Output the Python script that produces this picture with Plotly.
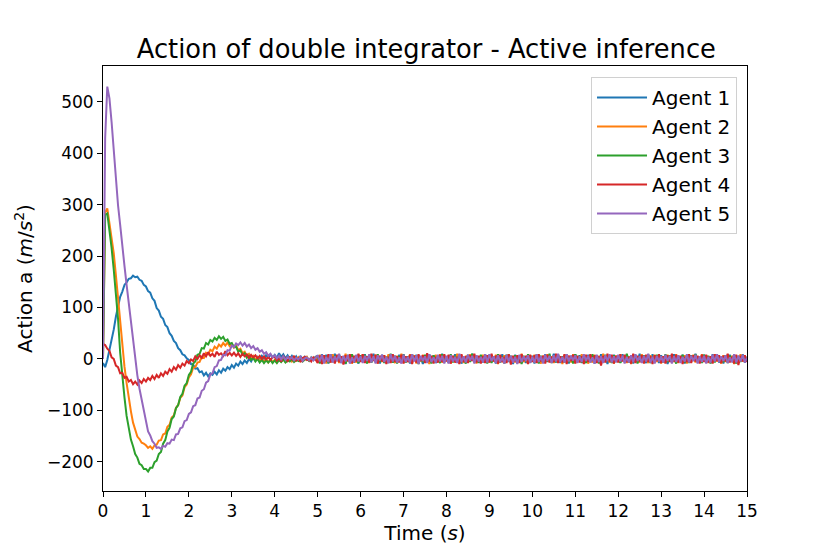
import plotly.graph_objects as go

# sampling grid of the simulation, 0.05 s steps from 0 to 15 s
time_s = [round(i * 0.05, 2) for i in range(301)]

agent_names = ["Agent 1", "Agent 2", "Agent 3", "Agent 4", "Agent 5"]
agent_colors = ["#1f77b4", "#ff7f0e", "#2ca02c", "#d62728", "#9467bd"]

# one row per second of simulation (20 samples), last value is t = 15 s
agent1 = [
    -8, -16, -2, 17, 41, 57, 82, 103, 121, 131, 144, 149, 156, 157, 162, 159, 160, 154, 152, 144,
    141, 132, 129, 118, 113, 99, 94, 82, 78, 66, 62, 50, 45, 35, 31, 21, 17, 9, 7, 1,
    -2, -10, -11, -19, -18, -26, -24, -32, -27, -34, -28, -31, -25, -30, -22, -27, -19, -23, -16, -20,
    -12, -17, -9, -13, -5, -10, -3, -8, 0, -5, 3, -3, 4, -1, 6, 0, 8, 1, 9, 3,
    8, 2, 11, 4, 9, 1, 7, 0, 6, -1, 5, -2, 6, -3, 4, 0, -4, 3, -2, 4,
    6, -7, 9, -4, 8, -9, 5, -6, 10, -3, 7, -8, 4, -10, 8, -5, 6, -7, 3, -9,
    7, -4, 9, -8, 5, -6, 10, -2, 6, -9, 8, -5, 3, -8, 9, -7, 4, -6, 8, -3,
    9, -6, 5, -9, 7, -3, 8, -7, 4, -10, 6, -5, 9, -4, 7, -8, 3, -6, 10, -5,
    5, -8, 7, -4, 9, -7, 6, -9, 3, -6, 8, -5, 10, -3, 6, -8, 5, -7, 9, -4,
    8, -5, 4, -9, 6, -7, 9, -3, 7, -6, 5, -10, 8, -4, 6, -7, 4, -8, 7, -5,
    6, -9, 8, -5, 3, -7, 9, -6, 5, -4, 10, -7, 6, -8, 4, -5, 8, -9, 6, -3,
    9, -4, 7, -8, 5, -6, 8, -3, 6, -9, 4, -7, 9, -5, 7, -10, 5, -4, 8, -6,
    4, -7, 9, -6, 8, -4, 5, -9, 7, -5, 10, -6, 3, -8, 6, -7, 9, -4, 5, -8,
    7, -5, 6, -10, 4, -6, 9, -7, 5, -3, 8, -9, 6, -5, 7, -4, 10, -6, 4, -7,
    8, -6, 5, -8, 9, -3, 6, -7, 4, -9, 7, -5, 8, -6, 3, -8, 6, -4, 9, -7,
    4,
]

agent2 = [
    0, 285, 293, 264, 236, 206, 163, 116, 67, 22, -15, -47, -79, -102, -124, -138, -151, -156, -163, -165,
    -168, -173, -170, -175, -168, -167, -159, -158, -147, -145, -132, -128, -114, -110, -95, -90, -76, -71, -55, -50,
    -36, -30, -17, -16, -7, -6, 4, 2, 12, 9, 18, 15, 24, 20, 28, 24, 31, 26, 32, 25,
    29, 22, 26, 17, 20, 11, 14, 6, 10, 2, 6, -2, 3, -4, 1, -6, 0, -7, -1, -6,
    -2, -7, -1, -5, 1, -6, -2, 2, -5, 0, -3, 3, -4, 1, -2, 4, -3, 2, -1, 3,
    -6, 8, -4, 7, -9, 5, -7, 9, -3, 6, -8, 4, -6, 10, -5, 7, -9, 3, -7, 8,
    -5, 9, -7, 4, -8, 6, -3, 8, -9, 5, -6, 7, -4, 9, -7, 3, -8, 6, -5, 10,
    -8, 5, -6, 9, -4, 7, -9, 6, -5, 8, -3, 7, -10, 4, -6, 8, -5, 9, -7, 3,
    -4, 7, -9, 5, -6, 10, -7, 4, -8, 6, -5, 9, -3, 7, -9, 5, -6, 8, -4, 6,
    -7, 6, -5, 8, -10, 4, -6, 7, -3, 9, -8, 5, -7, 6, -4, 10, -6, 3, -9, 7,
    -5, 8, -7, 3, -9, 6, -4, 9, -6, 5, -8, 7, -5, 4, -10, 8, -3, 6, -7, 9,
    -8, 4, -6, 9, -5, 7, -9, 3, -7, 8, -4, 6, -8, 10, -6, 5, -7, 4, -9, 6,
    -6, 9, -4, 6, -8, 5, -10, 7, -5, 4, -7, 9, -6, 3, -8, 7, -4, 8, -6, 5,
    -9, 5, -7, 8, -3, 6, -6, 9, -8, 4, -5, 7, -9, 6, -4, 8, -7, 5, -3, 9,
    -4, 7, -8, 5, -6, 9, -5, 3, -9, 7, -6, 8, -4, 6, -10, 5, -7, 9, -5, 4,
    -5,
]

agent3 = [
    0, 280, 283, 252, 216, 174, 128, 78, 12, -38, -75, -111, -133, -157, -170, -185, -192, -204, -207, -214,
    -214, -219, -212, -212, -201, -198, -185, -181, -165, -158, -141, -134, -117, -112, -96, -90, -74, -68, -52, -47,
    -31, -25, -9, -5, 8, 10, 21, 20, 31, 28, 37, 34, 41, 37, 44, 39, 43, 35, 38, 29,
    31, 23, 24, 14, 17, 8, 11, 2, 6, -2, 2, -5, 0, -7, -2, -8, -3, -7, -2, -8,
    -3, -8, -2, -6, -1, -7, -3, -5, 0, -6, -2, -4, 1, -5, -1, 2, -3, 0, -2, 3,
    5, -9, 7, -5, 4, -8, 9, -6, 6, -4, 8, -7, 5, -9, 3, -6, 9, -5, 7, -8,
    6, -4, 8, -9, 5, -7, 3, -6, 9, -5, 7, -8, 4, -3, 10, -7, 6, -9, 5, -4,
    8, -7, 4, -6, 9, -3, 7, -10, 5, -6, 8, -4, 6, -9, 7, -5, 3, -8, 9, -6,
    4, -6, 9, -7, 6, -5, 8, -4, 3, -9, 7, -6, 10, -5, 4, -7, 8, -3, 6, -9,
    7, -8, 5, -4, 9, -6, 4, -9, 8, -5, 6, -3, 7, -8, 5, -10, 6, -4, 9, -7,
    3, -6, 8, -9, 6, -4, 7, -5, 10, -8, 4, -6, 9, -3, 5, -7, 8, -6, 4, -9,
    9, -5, 6, -7, 3, -8, 5, -6, 9, -4, 7, -9, 5, -6, 8, -3, 6, -8, 7, -5,
    6, -8, 4, -5, 10, -7, 6, -3, 8, -9, 5, -6, 7, -4, 9, -8, 3, -6, 8, -5,
    5, -7, 9, -6, 7, -4, 3, -9, 6, -5, 8, -7, 4, -8, 6, -3, 9, -6, 5, -8,
    8, -4, 6, -9, 5, -7, 9, -5, 4, -6, 7, -8, 6, -3, 8, -9, 5, -6, 7, -4,
    3,
]

agent4 = [
    29, 27, 20, 16, 3, 0, -13, -16, -28, -27, -37, -35, -44, -41, -49, -44, -50, -42, -47, -39,
    -44, -37, -41, -33, -39, -31, -37, -28, -33, -25, -29, -20, -25, -16, -21, -12, -17, -9, -13, -4,
    -8, -1, -4, 5, 0, 7, 2, 11, 5, 13, 6, 10, 4, 14, 8, 11, 6, 15, 7, 12,
    7, 12, 6, 11, 4, 10, 5, 9, 2, 8, 3, 7, 1, 6, 0, 5, -1, 4, -2, 3,
    4, -3, 2, -5, 5, 0, -4, 3, -1, 6, -3, 1, -6, 2, 4, -2, 0, -5, 3, -1,
    -8, 6, -10, 7, -5, 9, -7, 4, -9, 8, -6, 5, -11, 7, -4, 9, -8, 6, -5, 10,
    -6, 9, -8, 5, -7, 10, -4, 8, -9, 6, -5, 7, -10, 4, -8, 9, -6, 5, -7, 8,
    -9, 5, -6, 8, -10, 6, -7, 9, -4, 7, -8, 11, -5, 6, -9, 4, -7, 8, -6, 9,
    -5, 8, -9, 6, -7, 4, -10, 9, -6, 5, -8, 7, -4, 10, -7, 6, -9, 5, -8, 7,
    -7, 10, -5, 6, -9, 8, -6, 4, -8, 9, -11, 6, -5, 7, -8, 9, -4, 6, -10, 8,
    -6, 7, -8, 9, -5, 6, -9, 8, -7, 4, -6, 10, -8, 5, -7, 9, -10, 6, -4, 8,
    -9, 6, -7, 5, -10, 8, -6, 9, -4, 7, -8, 5, -13, 6, -7, 10, -5, 8, -9, 6,
    -7, 9, -5, 8, -6, 4, -9, 10, -8, 6, -5, 7, -9, 8, -6, 5, -10, 7, -4, 9,
    -8, 5, -9, 7, -6, 10, -5, 8, -7, 6, -10, 4, -6, 9, -8, 7, -5, 6, -9, 8,
    -6, 8, -7, 5, -9, 9, -4, 7, -8, 6, -5, 10, -7, 4, -9, 8, -12, 6, -5, 7,
    -6,
]

agent5 = [
    0, 430, 530, 507, 461, 404, 351, 299, 261, 214, 181, 144, 108, 69, 37, -4, -32, -58, -79, -104,
    -123, -141, -149, -160, -165, -173, -172, -175, -169, -171, -164, -165, -157, -158, -147, -146, -135, -133, -121, -119,
    -107, -104, -92, -90, -77, -75, -62, -59, -46, -43, -30, -28, -16, -14, -3, -2, 8, 7, 17, 16,
    26, 23, 30, 27, 32, 26, 31, 24, 28, 21, 25, 18, 21, 14, 17, 10, 13, 6, 10, 3,
    7, 1, 6, -1, 5, -2, 4, 0, 3, -3, 2, -1, 4, -4, 1, 3, -2, 2, -3, 1,
    7, -5, 8, -9, 4, -6, 9, -7, 5, -4, 10, -8, 6, -5, 7, -9, 3, -6, 8, -5,
    5, -8, 6, -4, 9, -7, 5, -9, 7, -3, 8, -6, 4, -8, 9, -5, 6, -7, 3, -9,
    8, -6, 4, -7, 9, -5, 7, -10, 6, -4, 5, -8, 9, -6, 3, -7, 8, -5, 6, -9,
    6, -9, 7, -5, 4, -8, 10, -6, 5, -7, 8, -3, 6, -9, 7, -5, 4, -6, 9, -7,
    9, -4, 5, -8, 7, -6, 3, -9, 8, -5, 6, -7, 4, -10, 8, -6, 5, -4, 7, -8,
    4, -7, 9, -6, 5, -9, 8, -4, 6, -8, 7, -5, 10, -6, 4, -7, 9, -5, 6, -3,
    7, -8, 5, -6, 9, -4, 6, -7, 3, -9, 8, -6, 5, -8, 7, -4, 9, -7, 5, -6,
    8, -5, 6, -9, 4, -7, 7, -6, 9, -4, 5, -8, 6, -5, 10, -7, 4, -9, 6, -5,
    5, -7, 8, -4, 6, -9, 5, -6, 7, -8, 4, -5, 9, -7, 6, -4, 8, -9, 5, -6,
    6, -9, 4, -7, 8, -5, 9, -6, 5, -4, 7, -8, 3, -6, 9, -7, 6, -5, 8, -7,
    3,
]

x_ticks = list(range(0, 16))
y_ticks = [-200, -100, 0, 100, 200, 300, 400, 500]

fig = go.Figure()
for name, color, values in zip(agent_names, agent_colors, [agent1, agent2, agent3, agent4, agent5]):
    fig.add_trace(go.Scatter(x=time_s, y=values, name=name, mode="lines",
                             line=dict(color=color, width=2)))

axis_style = dict(showline=True, linecolor="black", linewidth=1, mirror=True,
                  ticks="outside", ticklen=5, tickcolor="black", showgrid=False,
                  zeroline=False, tickfont=dict(size=17, color="black"))

fig.update_layout(
    width=830, height=554,
    margin=dict(l=95, r=91, t=58, b=71),
    paper_bgcolor="white", plot_bgcolor="white",
    font=dict(family="DejaVu Sans", color="black"),
    title=dict(text="Action of double integrator - Active inference",
               x=0.504, xanchor="center", y=0.926, yanchor="middle",
               font=dict(size=25.7, color="black")),
    xaxis=dict(range=[0, 15], tickvals=x_ticks,
               title=dict(text="Time (<i>s</i>)", font=dict(size=20), standoff=3),
               **axis_style),
    yaxis=dict(range=[-257, 570], tickvals=y_ticks,
               title=dict(text="Action a (<i>m</i>/<i>s</i><sup>2</sup>)", font=dict(size=20), standoff=8),
               **axis_style),
    legend=dict(x=0.9845, y=0.974, xanchor="right", yanchor="top",
                bgcolor="white", bordercolor="#d0d0d0", borderwidth=1,
                itemwidth=50,
                font=dict(size=20, color="black")),
    showlegend=True,
)

fig.write_html("out.html")
